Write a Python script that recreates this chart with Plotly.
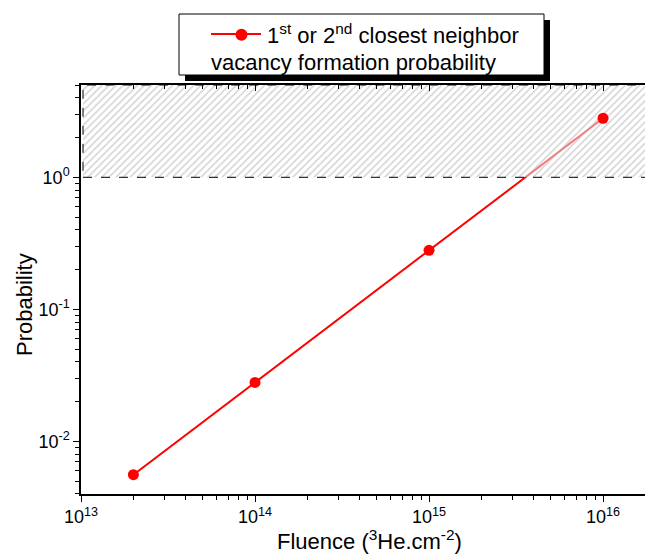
import plotly.graph_objects as go

# ---- data ----
fluence = [2e13, 1e14, 1e15, 1e16]
probability = [0.0056, 0.028, 0.28, 2.8]
series_name = "1<sup>st</sup> or 2<sup>nd</sup> closest neighbor"
series_name_line2 = "vacancy formation probability"

# hatched region (probability > 1)
hatch_x = [1.027e13, 2e16, 2e16, 1.027e13, 1.027e13]
hatch_y = [1, 1, 5, 5, 1]

x_tickvals = [1e13, 1e14, 1e15, 1e16]
x_ticktext = ["10<sup>13</sup>", "10<sup>14</sup>", "10<sup>15</sup>", "10<sup>16</sup>"]
y_tickvals = [0.01, 0.1, 1]
y_ticktext = ["10<sup>-2</sup>", "10<sup>-1</sup>", "10<sup>0</sup>"]

x_minor = [k * 10 ** e for e in range(13, 17) for k in range(2, 10)]
y_minor = [k * 10.0 ** e for e in range(-3, 1) for k in range(2, 10)]

FONT = "Liberation Sans, Arial, sans-serif"
RED = "#ff0000"

fig = go.Figure()

fig.add_trace(go.Scatter(
    x=fluence, y=probability, mode="lines",
    line=dict(color=RED, width=2), showlegend=False, hoverinfo="skip"))

fig.add_trace(go.Scatter(
    x=hatch_x, y=hatch_y, mode="lines", fill="toself",
    fillcolor="rgba(255,255,255,0.45)",
    fillpattern=dict(shape="/", fgcolor="#a8a8a8", bgcolor="rgba(255,255,255,0.45)",
                     size=5, solidity=0.3, fillmode="overlay"),
    line=dict(color="black", width=1, dash="dash"),
    showlegend=False, hoverinfo="skip"))

fig.add_trace(go.Scatter(
    x=fluence, y=probability, mode="markers", name=series_name,
    marker=dict(color=RED, size=11), showlegend=False))

# legend-only trace (marker; the line is drawn as a decoration)
fig.add_trace(go.Scatter(
    x=[None], y=[None], mode="markers", name=series_name,
    marker=dict(color=RED, size=12)))

# invisible trace so that the top axis is drawn
fig.add_trace(go.Scatter(x=[fluence[1]], y=[probability[1]], xaxis="x2", mode="markers",
                         marker=dict(opacity=0), showlegend=False, hoverinfo="skip"))

W, H = 645, 554
L, R, T, B = 81, 0, 85, 60
pw, ph = W - L - R, H - T - B

def px(x):
    return (x - L) / pw

def py(y):
    return (H - B - y) / ph

axis_common = dict(
    type="log", showgrid=False, zeroline=False, showline=True, linecolor="black",
    linewidth=1.5, tickcolor="black", tickwidth=1.3, layer="above traces",
)

fig.update_layout(
    width=W, height=H, autosize=False,
    margin=dict(l=L, r=R, t=T, b=B, pad=0),
    paper_bgcolor="white", plot_bgcolor="white",
    font=dict(family=FONT, color="black", size=18),
    showlegend=True,
    legend=dict(x=px(216), y=py(14), xanchor="left", yanchor="top",
                bgcolor="rgba(0,0,0,0)", borderwidth=0, itemwidth=41,
                font=dict(size=22, family=FONT), itemsizing="trace"),
    xaxis=dict(**axis_common, range=[13, 16.241], ticks="outside", ticklen=6,
               tickvals=x_tickvals, ticktext=x_ticktext,
               minor=dict(tickvals=x_minor, ticks="outside", ticklen=4, tickcolor="black", tickwidth=1.3)),
    xaxis2=dict(**axis_common, range=[13, 16.241], overlaying="x", side="top", anchor="y",
                ticks="inside", ticklen=6, tickvals=x_tickvals, ticktext=x_ticktext,
                showticklabels=False,
                minor=dict(tickvals=x_minor, ticks="inside", ticklen=4, tickcolor="black", tickwidth=1.3)),
    yaxis=dict(**axis_common, range=[-2.398, 0.699], ticks="outside", ticklen=6,
               tickvals=y_tickvals, ticktext=y_ticktext,
               minor=dict(tickvals=y_minor, ticks="outside", ticklen=4, tickcolor="black", tickwidth=1.3)),
)

# legend box with shadow
fig.add_shape(type="rect", xref="paper", yref="paper",
              x0=px(185), x1=px(550), y0=py(81), y1=py(20),
              fillcolor="black", line=dict(width=0), layer="above")
fig.add_shape(type="rect", xref="paper", yref="paper",
              x0=px(179), x1=px(544), y0=py(75), y1=py(14),
              fillcolor="white", line=dict(color="black", width=1), layer="above")
# legend symbol line
fig.add_shape(type="line", xref="paper", yref="paper",
              x0=px(211), x1=px(261), y0=py(34), y1=py(34),
              line=dict(color=RED, width=2), layer="above")

fig.add_annotation(text=series_name_line2, xref="paper", yref="paper",
                   x=px(209), y=py(62), xanchor="left", yanchor="middle",
                   showarrow=False, font=dict(size=22, family=FONT))

# axis titles
fig.add_annotation(text="Probability", xref="paper", yref="paper",
                   x=px(24), y=py(305), textangle=-90, xanchor="center", yanchor="middle",
                   showarrow=False, font=dict(size=22, family=FONT))
fig.add_annotation(text="Fluence (<sup>3</sup>He.cm<sup>-2</sup>)", xref="paper", yref="paper",
                   x=px(369), y=py(540), xanchor="center", yanchor="middle",
                   showarrow=False, font=dict(size=22, family=FONT))

fig.write_html("out.html", config={"displayModeBar": False},
               post_script="document.body.style.margin='0px';")
